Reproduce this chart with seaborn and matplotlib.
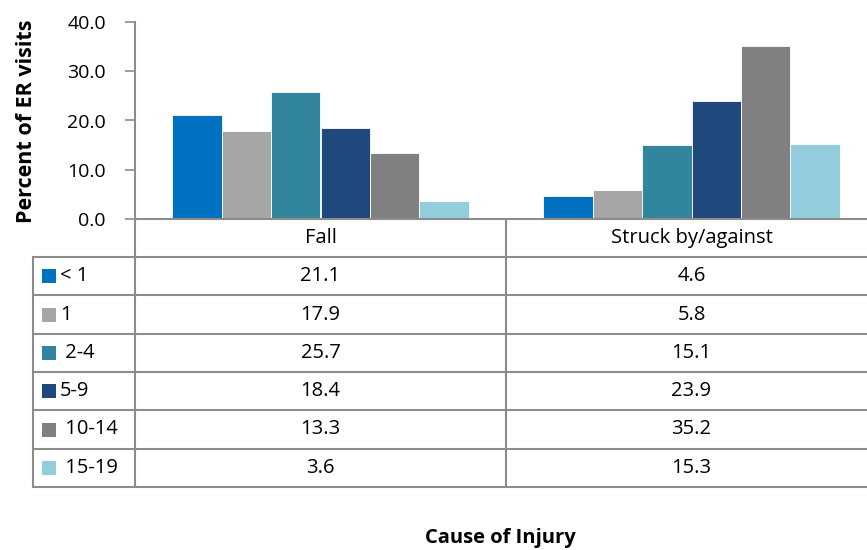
import numpy as np
import pandas as pd
import matplotlib
matplotlib.use("Agg")
import matplotlib.pyplot as plt
import seaborn as sns
from matplotlib.lines import Line2D
from matplotlib.patches import Rectangle

# Chart data
causes = ["Fall", "Struck by/against"]
age_groups = ["< 1", "1", " 2-4", "5-9", " 10-14", " 15-19"]
fall_pct = [21.1, 17.9, 25.7, 18.4, 13.3, 3.6]
struck_pct = [4.6, 5.8, 15.1, 23.9, 35.2, 15.3]
age_colors = ["#0070C0", "#A6A6A6", "#31859C", "#1F497D", "#808080", "#93CDDD"]

W, H = 867, 550
GRID = "#8C8C8C"

sns.set_theme(style="white")
plt.rcParams['font.family'] = ['Open Sans', 'DejaVu Sans']
plt.rcParams['text.color'] = 'black'

df = pd.DataFrame({
    "cause": np.repeat(causes, len(age_groups)),
    "age": age_groups * len(causes),
    "pct": fall_pct + struck_pct,
})

fig = plt.figure(figsize=(W / 100, H / 100), dpi=100)

# pixel helpers (top-left origin)
def fx(px):
    return px / W

def fy(py):
    return 1 - py / H

ax_left, ax_top, ax_bottom = 135, 22, 219
cat_w = 371
ax = fig.add_axes([fx(ax_left), fy(ax_bottom), (cat_w * len(causes)) / W, (ax_bottom - ax_top) / H])

sns.barplot(data=df, x="cause", y="pct", hue="age", hue_order=age_groups,
            palette=age_colors, saturation=1, width=0.8, edgecolor="white",
            linewidth=0.6, legend=False, ax=ax)

ax.set_xlim(-0.5, len(causes) - 0.5)
ax.set_ylim(0, 40)
ax.set_yticks(np.arange(0, 41, 10))
ax.set_yticklabels([f"{v:.1f}" for v in np.arange(0, 41, 10)])
ax.set_xticks([])
ax.set_xlabel("")
ax.set_ylabel("")
for s in ["top", "right"]:
    ax.spines[s].set_visible(False)
for s in ["left", "bottom"]:
    ax.spines[s].set_color(GRID)
    ax.spines[s].set_linewidth(1.5)
ax.tick_params(axis="y", left=True, direction="out", length=7, width=1.2,
               color=GRID, pad=14, labelsize=14, labelcolor="black")

# Axis titles
fig.text(fx(27), fy(121), "Percent of ER visits", rotation=90, ha="center", va="center",
         fontsize=15.5, fontweight="bold")
fig.text(fx(500), fy(538), "Cause of Injury", ha="center", va="center",
         fontsize=14.5, fontweight="bold")

# Data table below the chart
tbl_left, tbl_top, tbl_bottom = 33, 257, 487
row_h = (tbl_bottom - tbl_top) / len(age_groups)
col_edges = [ax_left + i * cat_w for i in range(len(causes) + 1)]

def hline(y, x0, x1):
    fig.add_artist(Line2D([fx(x0), fx(x1)], [fy(y), fy(y)], transform=fig.transFigure,
                          color=GRID, lw=1.5))

def vline(x, y0, y1):
    fig.add_artist(Line2D([fx(x), fx(x)], [fy(y0), fy(y1)], transform=fig.transFigure,
                          color=GRID, lw=1.5))

for i in range(len(age_groups) + 1):
    hline(tbl_top + i * row_h, tbl_left, W + 10)
vline(tbl_left, tbl_top, tbl_bottom)
vline(ax_left, ax_bottom, tbl_bottom)
vline(col_edges[1], ax_bottom, tbl_bottom)

# header row: category names
for j, cause in enumerate(causes):
    cx = (col_edges[j] + col_edges[j + 1]) / 2
    fig.text(fx(cx), fy((ax_bottom + tbl_top) / 2), cause, ha="center", va="center", fontsize=14.5)

series = [fall_pct, struck_pct]
for i, (age, col) in enumerate(zip(age_groups, age_colors)):
    cy = tbl_top + (i + 0.5) * row_h
    fig.add_artist(Rectangle((fx(42), fy(cy + 7)), 14 / W, 14 / H, transform=fig.transFigure,
                             facecolor=col, edgecolor="none"))
    fig.text(fx(60), fy(cy), age, ha="left", va="center", fontsize=14.5)
    for j in range(len(causes)):
        cx = (col_edges[j] + col_edges[j + 1]) / 2
        fig.text(fx(cx), fy(cy), f"{series[j][i]:.1f}", ha="center", va="center", fontsize=14.5)

fig.savefig("out.png", dpi=100)
